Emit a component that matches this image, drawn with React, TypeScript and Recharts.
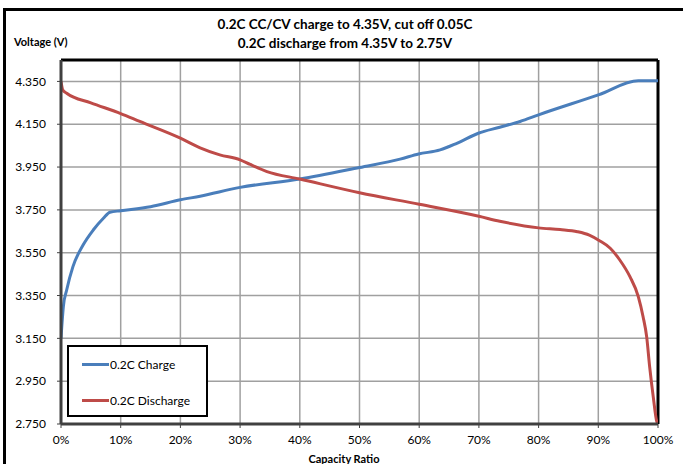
import React from "react";
import {
  LineChart,
  Line,
  XAxis,
  YAxis,
  CartesianGrid,
  ReferenceLine,
  Legend,
} from "recharts";

const xTicks = [0, 10, 20, 30, 40, 50, 60, 70, 80, 90, 100];
const yTicks = [2.75, 2.95, 3.15, 3.35, 3.55, 3.75, 3.95, 4.15, 4.35];

const chargeX = [0, 0.4, 0.95, 2, 3.7, 5.4, 7.1, 8.2, 10, 15, 20, 23.3, 30, 40, 50, 56.8, 59.9, 63.5, 66.3, 69.9, 73.5, 76.9, 80, 90, 96.7, 100];
const chargeV = [3.15, 3.3, 3.376, 3.485, 3.586, 3.656, 3.711, 3.739, 3.746, 3.765, 3.797, 3.814, 3.855, 3.894, 3.948, 3.987, 4.011, 4.03, 4.061, 4.108, 4.136, 4.163, 4.194, 4.287, 4.353, 4.353];

const dischargeX = [0, 0.3, 0.95, 5, 10, 13.2, 20, 23.3, 26.6, 30, 31.7, 34.5, 40, 50, 60, 70, 73.5, 80, 83.6, 86.5, 88.5, 90.2, 92, 93.6, 95.3, 96.7, 97.5, 98.1, 98.6, 99.2, 99.8, 100];
const dischargeV = [4.35, 4.31, 4.295, 4.25, 4.2, 4.163, 4.085, 4.04, 4.007, 3.984, 3.962, 3.929, 3.894, 3.83, 3.776, 3.72, 3.697, 3.666, 3.658, 3.648, 3.632, 3.606, 3.571, 3.516, 3.438, 3.345, 3.251, 3.158, 3.018, 2.878, 2.761, 2.75];

const chargeData = chargeX.map((x, i) => ({ x, v: chargeV[i] }));
const dischargeData = dischargeX.map((x, i) => ({ x, v: dischargeV[i] }));

const FONT = "Lato, 'Open Sans', sans-serif";
const BLUE = "#4a7ebb";
const RED = "#be4b48";

const LegendBox = (props: any) => {
  const payload = props.payload || [];
  return (
    <div
      style={{
        width: 137,
        height: 68,
        border: "2px solid #000",
        background: "#fff",
        fontFamily: FONT,
        fontSize: 12,
        color: "#000",
        position: "relative",
      }}
    >
      {payload.map((p: any, i: number) => (
        <div
          key={i}
          style={{
            position: "absolute",
            left: 13,
            top: 9 + i * 36,
            display: "flex",
            alignItems: "center",
            height: 16,
          }}
        >
          <div style={{ width: 27, height: 3, background: p.color }} />
          <span style={{ marginLeft: 1 }}>{p.value}</span>
        </div>
      ))}
    </div>
  );
};

export default function App() {
  return (
    <div
      style={{
        position: "absolute",
        left: 0,
        top: 0,
        width: 683,
        height: 464,
        background: "#fff",
        overflow: "hidden",
        fontFamily: FONT,
      }}
    >
      <div style={{ position: "absolute", left: 3, top: 8, width: 690, height: 3, background: "#000" }} />
      <div style={{ position: "absolute", left: 3, top: 8, width: 3, height: 470, background: "#000" }} />
      <div
        style={{
          position: "absolute",
          left: 0,
          width: 690,
          top: 15,
          textAlign: "center",
          fontWeight: 700,
          fontSize: 13.5,
          lineHeight: "19px",
          color: "#000",
        }}
      >
        <div>0.2C CC/CV charge to 4.35V, cut off 0.05C</div>
        <div>0.2C discharge from 4.35V to 2.75V</div>
      </div>
      <div
        style={{
          position: "absolute",
          left: 14,
          top: 35,
          fontWeight: 700,
          fontSize: 11,
          color: "#000",
        }}
      >
        Voltage (V)
      </div>
      <div
        style={{
          position: "absolute",
          left: 0,
          width: 688,
          top: 452,
          textAlign: "center",
          fontWeight: 700,
          fontSize: 11,
          color: "#000",
        }}
      >
        Capacity Ratio
      </div>
      <div style={{ position: "absolute", left: 0, top: 0 }}>
        <LineChart
          width={683}
          height={464}
          margin={{ top: 60, right: 25, left: 11, bottom: 20 }}
        >
          <CartesianGrid stroke="#a0a0a0" strokeWidth={1.5} verticalValues={xTicks} horizontalValues={yTicks} />
          <XAxis
            type="number"
            dataKey="x"
            domain={[0, 100]}
            ticks={xTicks}
            tickFormatter={(v: number) => `${v}%`}
            height={20}
            tickSize={4}
            tickMargin={7}
            axisLine={{ stroke: "#404040", strokeWidth: 3 }}
            tickLine={{ stroke: "#404040" }}
            tick={{ fill: "#000", fontSize: 12, fontFamily: FONT }}
            interval={0}
            allowDataOverflow
          />
          <YAxis
            type="number"
            domain={[2.75, 4.45]}
            ticks={yTicks}
            tickFormatter={(v: number) => v.toFixed(3)}
            width={50}
            tickSize={4}
            tickMargin={11}
            axisLine={{ stroke: "#404040", strokeWidth: 3 }}
            tickLine={{ stroke: "#404040" }}
            tick={{ fill: "#000", fontSize: 12, fontFamily: FONT }}
            interval={0}
            allowDataOverflow
          />
          <ReferenceLine y={4.45} stroke="#000" strokeWidth={3} ifOverflow="visible" />
          <ReferenceLine x={100} stroke="#000" strokeWidth={3} ifOverflow="visible" />
          <Line
            data={chargeData}
            dataKey="v"
            name="0.2C Charge"
            type="monotone"
            stroke={BLUE}
            strokeWidth={3}
            dot={false}
            isAnimationActive={false}
          />
          <Line
            data={dischargeData}
            dataKey="v"
            name="0.2C Discharge"
            type="monotone"
            stroke={RED}
            strokeWidth={3}
            dot={false}
            isAnimationActive={false}
          />
          <Legend
            content={<LegendBox />}
            layout="vertical"
            align="center"
            verticalAlign="middle"
            wrapperStyle={{ position: "absolute", left: 67, top: 345, width: 141, height: 72 }}
          />
        </LineChart>
      </div>
    </div>
  );
}
